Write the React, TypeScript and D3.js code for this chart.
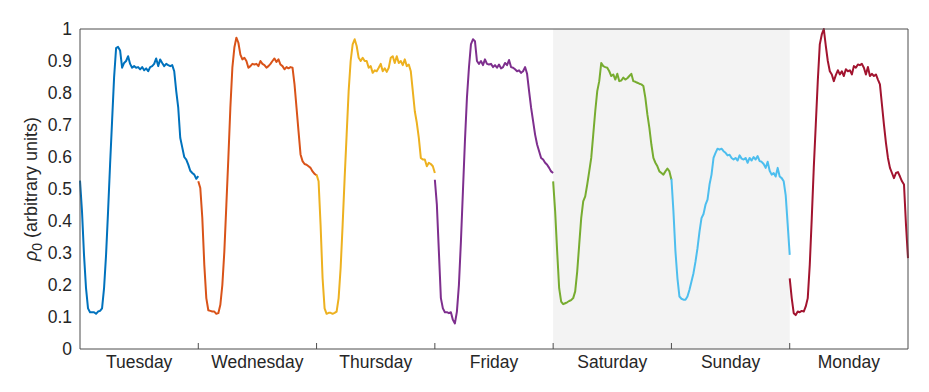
import React from 'react';
import * as d3 from 'd3';

const days = ['Tuesday', 'Wednesday', 'Thursday', 'Friday', 'Saturday', 'Sunday', 'Monday'];
const dayColors = ['#0072BD', '#D95319', '#EDB120', '#7E2F8E', '#77AC30', '#4DBEEE', '#A2142F'];
const weekendDays = ['Saturday', 'Sunday'];
const yTicks = [0, 0.1, 0.2, 0.3, 0.4, 0.5, 0.6, 0.7, 0.8, 0.9, 1];

// each day sampled evenly from 0h to 24h
const tuesday = [
  0.526, 0.43, 0.294, 0.19, 0.127, 0.115, 0.115, 0.115, 0.11, 0.117,
  0.119, 0.127, 0.19, 0.294, 0.43, 0.576, 0.712, 0.848, 0.94, 0.944,
  0.933, 0.879, 0.894, 0.9, 0.915, 0.891, 0.879, 0.884, 0.879, 0.881,
  0.874, 0.881, 0.871, 0.877, 0.868, 0.881, 0.884, 0.891, 0.908, 0.884,
  0.905, 0.894, 0.884, 0.891, 0.887, 0.884, 0.887, 0.868, 0.806, 0.754,
  0.66, 0.63, 0.6, 0.592, 0.576, 0.557, 0.55, 0.545, 0.532, 0.54,
];
const wednesday = [
  0.524, 0.503, 0.41, 0.263, 0.159, 0.121, 0.119, 0.117, 0.117, 0.11,
  0.112, 0.138, 0.2, 0.305, 0.45, 0.597, 0.754, 0.879, 0.942, 0.973,
  0.957, 0.92, 0.905, 0.91, 0.9, 0.879, 0.884, 0.891, 0.889, 0.891,
  0.884, 0.9, 0.891, 0.887, 0.879, 0.884, 0.891, 0.9, 0.908, 0.897,
  0.905, 0.889, 0.884, 0.874, 0.881, 0.877, 0.881, 0.879, 0.827, 0.754,
  0.68, 0.608, 0.587, 0.578, 0.576, 0.571, 0.566, 0.555, 0.547, 0.543,
];
const thursday = [
  0.545, 0.524, 0.388, 0.221, 0.127, 0.11, 0.113, 0.113, 0.11, 0.113,
  0.117, 0.159, 0.253, 0.388, 0.534, 0.67, 0.806, 0.9, 0.952, 0.968,
  0.947, 0.91, 0.9, 0.91, 0.9, 0.9, 0.879, 0.884, 0.863, 0.871,
  0.868, 0.879, 0.891, 0.868, 0.877, 0.866, 0.879, 0.91, 0.915, 0.894,
  0.915, 0.894, 0.9, 0.887, 0.905, 0.884, 0.889, 0.868, 0.806, 0.743,
  0.707, 0.66, 0.597, 0.592, 0.592, 0.571, 0.582, 0.578, 0.571, 0.55,
];
const friday = [
  0.529, 0.451, 0.305, 0.159, 0.127, 0.115, 0.115, 0.112, 0.115, 0.091,
  0.08, 0.117, 0.2, 0.336, 0.493, 0.649, 0.785, 0.879, 0.952, 0.968,
  0.962, 0.9, 0.891, 0.9, 0.887, 0.905, 0.891, 0.889, 0.891, 0.881,
  0.887, 0.879, 0.889, 0.877, 0.881, 0.894, 0.887, 0.903, 0.881, 0.879,
  0.874, 0.868, 0.871, 0.863, 0.868, 0.881, 0.86, 0.806, 0.754, 0.712,
  0.67, 0.639, 0.618, 0.597, 0.592, 0.582, 0.576, 0.566, 0.555, 0.55,
];
const saturday = [
  0.524, 0.43, 0.305, 0.19, 0.148, 0.14, 0.143, 0.146, 0.15, 0.153,
  0.159, 0.18, 0.242, 0.326, 0.409, 0.461, 0.477, 0.514, 0.555, 0.597,
  0.67, 0.743, 0.806, 0.837, 0.894, 0.884, 0.881, 0.879, 0.868, 0.853,
  0.858, 0.842, 0.86, 0.837, 0.839, 0.848, 0.842, 0.846, 0.853, 0.86,
  0.837, 0.835, 0.832, 0.829, 0.827, 0.822, 0.785, 0.733, 0.691, 0.639,
  0.597, 0.582, 0.571, 0.555, 0.55, 0.545, 0.555, 0.564, 0.555, 0.529,
];
const sunday = [
  0.532, 0.43, 0.305, 0.221, 0.164, 0.157, 0.154, 0.154, 0.164, 0.185,
  0.211, 0.237, 0.273, 0.315, 0.367, 0.409, 0.422, 0.451, 0.467, 0.514,
  0.545, 0.597, 0.613, 0.626, 0.623, 0.626, 0.618, 0.613, 0.605, 0.607,
  0.597, 0.592, 0.597, 0.589, 0.605, 0.595, 0.592, 0.597, 0.582, 0.597,
  0.589, 0.6, 0.592, 0.603, 0.587, 0.585, 0.578, 0.566, 0.585, 0.557,
  0.545, 0.55, 0.539, 0.566, 0.539, 0.534, 0.524, 0.48, 0.388, 0.294,
];
const monday = [
  0.221, 0.159, 0.112, 0.106, 0.117, 0.115, 0.119, 0.117, 0.133, 0.159,
  0.263, 0.409, 0.566, 0.701, 0.837, 0.952, 0.983, 1.0, 0.947, 0.9,
  0.868, 0.858, 0.837, 0.856, 0.871, 0.858, 0.868, 0.853, 0.874, 0.868,
  0.871, 0.858, 0.884, 0.879, 0.889, 0.887, 0.891, 0.879, 0.858, 0.881,
  0.853, 0.86, 0.853, 0.858, 0.842, 0.827, 0.764, 0.701, 0.644, 0.597,
  0.566, 0.55, 0.534, 0.55, 0.553, 0.539, 0.524, 0.514, 0.388, 0.284,
];
const series = [tuesday, wednesday, thursday, friday, saturday, sunday, monday];

const fontFamily = '"Liberation Sans", Arial, Helvetica, sans-serif';

export default function App() {
  const width = 929;
  const height = 392;
  const margin = { top: 29, right: 21, bottom: 43, left: 80 };
  const innerW = width - margin.left - margin.right;
  const innerH = height - margin.top - margin.bottom;

  // D3 mathy bits
  const x = d3.scaleLinear().domain([0, 24 * days.length]).range([0, innerW]);
  const y = d3.scaleLinear().domain([0, 1]).range([innerH, 0]);

  const axisColor = '#4d4d4d';
  const textColor = '#262626';

  const lines = series.map((vals, di) => {
    const step = 24 / (vals.length - 1);
    const line = d3.line<number>()
      .x((v, i) => x(di * 24 + i * step))
      .y((v) => y(v));
    return (
      <path key={di} d={line(vals) || ''} fill="none" stroke={dayColors[di]}
        strokeWidth={2} strokeLinejoin="round" strokeLinecap="butt" />
    );
  });

  // one shaded block over the weekend
  const weekendIdx = days.map((d, i) => (weekendDays.includes(d) ? i : -1)).filter((i) => i >= 0);
  const shadeStart = x(d3.min(weekendIdx)! * 24);
  const shadeEnd = x((d3.max(weekendIdx)! + 1) * 24);

  const boundaries = d3.range(1, days.length).map((i) => i * 24);

  return (
    <svg width={width} height={height} style={{ position: 'absolute', left: 0, top: 0 }}>
      <rect width={width} height={height} fill="#ffffff" />
      <g transform={`translate(${margin.left},${margin.top})`}>
        <rect x={shadeStart} y={0} width={shadeEnd - shadeStart} height={innerH} fill="#f3f3f3" />
        {lines}
        {/* box */}
        <line x1={0} x2={innerW} y1={0} y2={0} stroke={axisColor} strokeWidth={1} />
        <line x1={innerW} x2={innerW} y1={0} y2={innerH} stroke={axisColor} strokeWidth={1} />
        <line x1={0} x2={innerW} y1={innerH} y2={innerH} stroke={axisColor} strokeWidth={1} />
        <line x1={0} x2={0} y1={0} y2={innerH} stroke={axisColor} strokeWidth={1} />
        {boundaries.map((b) => (
          <line key={b} x1={x(b)} x2={x(b)} y1={innerH} y2={innerH - 6} stroke={axisColor} strokeWidth={1} />
        ))}
        {days.map((d, di) => (
          <text key={d} x={x(di * 24 + 12)} y={innerH + 19} textAnchor="middle"
            fontFamily={fontFamily} fontSize={17.5} fill={textColor}>{d}</text>
        ))}
        {yTicks.map((t) => (
          <text key={t} x={-8} y={y(t)} dy="0.35em" textAnchor="end"
            fontFamily={fontFamily} fontSize={17.5} fill={textColor}>{t === 0 || t === 1 ? String(t) : t.toFixed(1)}</text>
        ))}
        <text transform={`translate(${-43},${innerH / 2}) rotate(-90)`} textAnchor="middle"
          fontFamily={fontFamily} fontSize={18} fill={textColor}>
          <tspan fontStyle="italic">ρ</tspan>
          <tspan fontSize={14} dy={5}>0</tspan>
          <tspan dy={-5}> (arbitrary units)</tspan>
        </text>
      </g>
    </svg>
  );
}
